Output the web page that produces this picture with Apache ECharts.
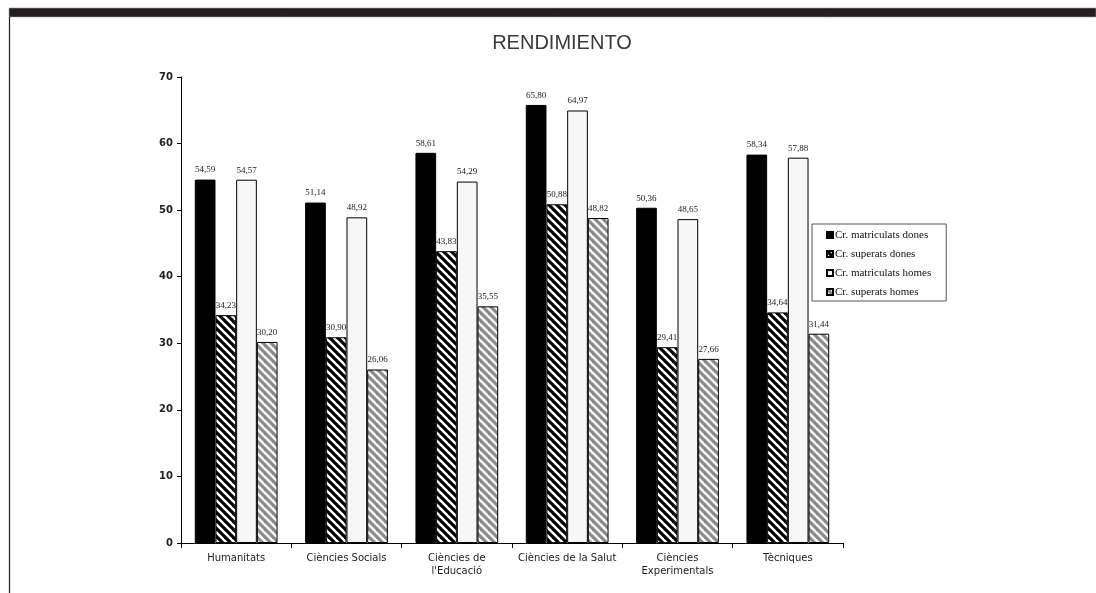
<!DOCTYPE html>
<html>
<head>
<meta charset="utf-8">
<style>
  html, body { margin: 0; padding: 0; background: #fff; }
  #chart { width: 1096px; height: 593px; }
</style>
<script src="https://cdn.jsdelivr.net/npm/echarts@6/dist/echarts.min.js"></script>
</head>
<body>
<div id="chart"></div>
<script>
// Academic performance by field: credits enrolled vs. credits passed, women and men
const categories = ['Humanitats', 'Ciències Socials', 'Ciències de\nl\'Educació', 'Ciències de la Salut', 'Ciències\nExperimentals', 'Tècniques'];
const seriesNames = ['Cr. matriculats dones', 'Cr. superats dones', 'Cr. matriculats homes', 'Cr. superats homes'];
const matriculatsDones = [54.59, 51.14, 58.61, 65.80, 50.36, 58.34];
const superatsDones    = [34.23, 30.90, 43.83, 50.88, 29.41, 34.64];
const matriculatsHomes = [54.57, 48.92, 54.29, 64.97, 48.65, 57.88];
const superatsHomes    = [30.20, 26.06, 35.55, 48.82, 27.66, 31.44];
const yTicks = [0, 10, 20, 30, 40, 50, 60, 70];

// diagonal hatch tile used for the "superats" bars
function hatch(stripe, size, width) {
  const c = document.createElement('canvas');
  c.width = size; c.height = size;
  const g = c.getContext('2d');
  g.fillStyle = '#ffffff';
  g.fillRect(0, 0, size, size);
  g.strokeStyle = stripe;
  g.lineWidth = width;
  g.lineCap = 'square';
  for (let k = -2 * size; k <= 2 * size; k += size) {
    g.beginPath();
    g.moveTo(k, 0);
    g.lineTo(k + size, size);
    g.stroke();
  }
  return { image: c, repeat: 'repeat' };
}

const fills = ['#000000', hatch('#000000', 8, 3.2), '#f7f7f7', hatch('#8a8a8a', 8, 3.2)];
const values = [matriculatsDones, superatsDones, matriculatsHomes, superatsHomes];

const chart = echarts.init(document.getElementById('chart'), null, { renderer: 'canvas' });

chart.setOption({
  animation: false,
  backgroundColor: '#ffffff',
  title: {
    text: 'RENDIMIENTO',
    left: 557,
    textAlign: 'center',
    top: 28,
    textStyle: { fontFamily: 'Liberation Sans', fontSize: 20, fontWeight: 'normal', color: '#3a3a3a' }
  },
  legend: {
    orient: 'vertical',
    left: 812,
    top: 224,
    padding: [5, 15, 3, 14],
    itemWidth: 6,
    itemHeight: 6,
    itemGap: 7,
    icon: 'rect',
    borderColor: '#555',
    borderWidth: 1,
    textStyle: { fontFamily: 'Liberation Serif', fontSize: 11, color: '#111', lineHeight: 12, padding: [0, 0, 0, -3] },
    data: seriesNames
  },
  graphic: [
    { type: 'rect', shape: { x: 9, y: 8, width: 1087, height: 9 }, style: { fill: '#231f20', stroke: '#9a9a9a', lineWidth: 0.6 }, silent: true },
    { type: 'line', shape: { x1: 9.5, y1: 17, x2: 9.5, y2: 593 }, style: { stroke: '#222', lineWidth: 1.2 }, silent: true }
  ],
  grid: { left: 181, right: 253, top: 77, bottom: 50, containLabel: false },
  xAxis: {
    type: 'category',
    data: categories,
    axisLine: { lineStyle: { color: '#000', width: 1 } },
    axisTick: { show: true, length: 5, lineStyle: { color: '#000' } },
    axisLabel: { fontFamily: 'DejaVu Sans', fontSize: 10, color: '#222', margin: 9, lineHeight: 13, interval: 0 }
  },
  yAxis: {
    type: 'value',
    min: yTicks[0],
    max: yTicks[yTicks.length - 1],
    interval: 10,
    axisLine: { show: true, lineStyle: { color: '#000', width: 1 } },
    axisTick: { show: true, length: 4, lineStyle: { color: '#000' } },
    splitLine: { show: false },
    axisLabel: { fontFamily: 'DejaVu Sans', fontSize: 10, fontWeight: 'bold', color: '#222', margin: 8 }
  },
  series: seriesNames.map((name, i) => ({
    name,
    type: 'bar',
    data: values[i],
    barGap: '0%',
    barCategoryGap: '25%',
    itemStyle: { color: fills[i], borderColor: '#000', borderWidth: 1 },
    label: {
      show: true,
      position: 'top',
      distance: 5,
      fontFamily: 'Liberation Serif',
      fontSize: 9,
      color: '#222',
      formatter: p => p.value.toFixed(2).replace('.', ',')
    }
  }))
});
</script>
</body>
</html>
